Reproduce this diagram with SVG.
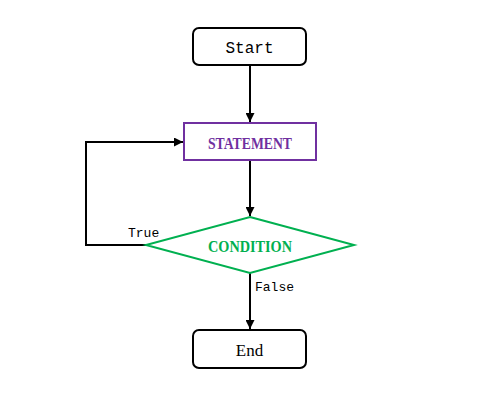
<svg xmlns="http://www.w3.org/2000/svg" width="500" height="400" viewBox="0 0 500 400">
<style>
.term{fill:#fff;stroke:#000;stroke-width:2}
.lbl{font-family:"Liberation Mono","DejaVu Sans Mono",monospace;font-size:16px;fill:#000}
.small{font-family:"Liberation Mono","DejaVu Sans Mono",monospace;font-size:13px;fill:#000}
.bold{font-family:"Liberation Serif","Times New Roman",serif;font-weight:bold;font-size:17px}
.edge{fill:none;stroke:#000;stroke-width:2}
</style>
<defs>
<marker id="arr" viewBox="0 0 10 10" refX="10" refY="5" markerWidth="4.5" markerHeight="4.5" orient="auto" markerUnits="strokeWidth">
<path d="M0,0 L10,5 L0,10 z" fill="#000"/>
</marker>
</defs>
<rect width="500" height="400" fill="#fff"/>
<g id="connectors">
<path class="edge" d="M250,65 V122" marker-end="url(#arr)"/>
<path class="edge" d="M250,160 V216" marker-end="url(#arr)"/>
<path class="edge" d="M250,273 V329" marker-end="url(#arr)"/>
<path class="edge" d="M146,245 H86 V142 H183" marker-end="url(#arr)"/>
<text class="small" x="128" y="237">True</text>
<text class="small" x="255" y="291">False</text>
</g>
<g id="start">
<rect class="term" x="193" y="28" width="113" height="37" rx="6"/>
<text class="lbl" x="249.5" y="53" text-anchor="middle">Start</text>
</g>
<g id="statement">
<rect x="184" y="123" width="132" height="37" fill="#fff" stroke="#7030A0" stroke-width="2"/>
<text class="bold" x="250" y="148.5" text-anchor="middle" fill="#7030A0" textLength="84" lengthAdjust="spacingAndGlyphs">STATEMENT</text>
</g>
<g id="condition">
<polygon points="250,217 354,245 250,273 146,245" fill="#fff" stroke="#00B050" stroke-width="2"/>
<text class="bold" x="250" y="251.5" text-anchor="middle" fill="#00B050" textLength="84" lengthAdjust="spacingAndGlyphs">CONDITION</text>
</g>
<g id="end">
<rect class="term" x="193" y="330" width="113" height="38" rx="6"/>
<text x="249.5" y="356" text-anchor="middle" fill="#000" style="font-family:'Liberation Serif','Times New Roman',serif;font-size:17px">End</text>
</g>
</svg>
